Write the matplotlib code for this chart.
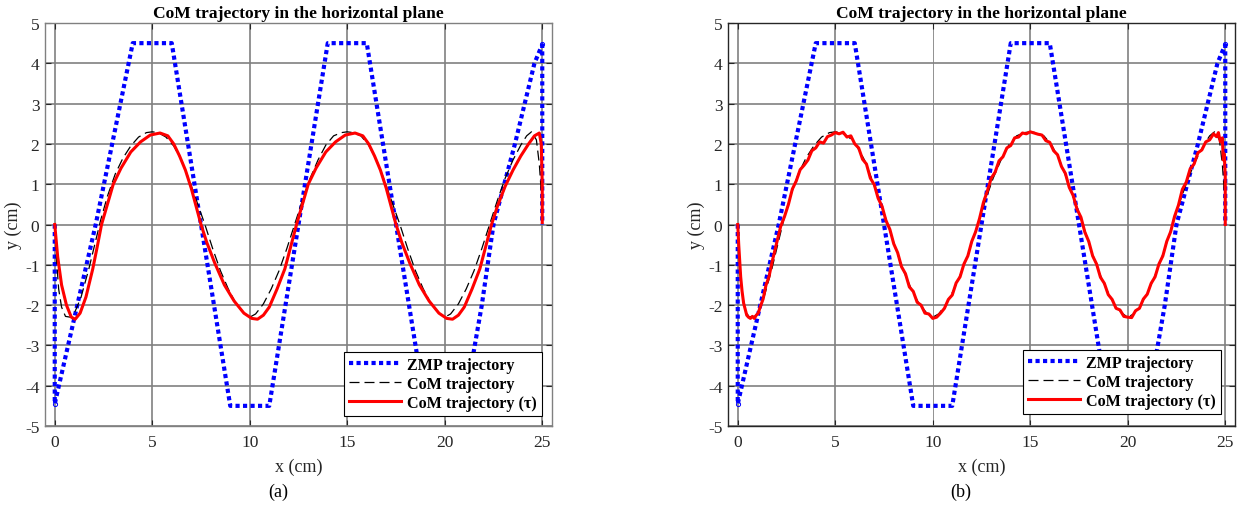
import matplotlib
matplotlib.use("Agg")
import matplotlib.pyplot as plt

plt.rcParams['font.family'] = ['Liberation Serif', 'DejaVu Serif']
plt.rcParams['axes.unicode_minus'] = False

# ZMP reference (blue dotted)
zmp_x = [0, 0, 2.1, 4.0, 6.0, 9.0, 11.0, 14.0, 16.0, 19.0, 21.0, 21.9, 22.5, 23.6, 24.6, 24.9, 25.0, 25.0]
zmp_y = [0, -4.45, 0, 4.5, 4.5, -4.5, -4.5, 4.5, 4.5, -4.5, -4.5, -2.0, 0, 2.0, 4.0, 4.35, 4.45, 0]
zmp_mark_x = [0, 25.0]
zmp_mark_y = [-4.45, 4.48]

# CoM reference (black dashed)
com_x = [0, 0.08, 0.2, 0.35, 0.55, 0.8, 1.05, 1.35, 1.75, 2.1, 2.35, 2.7, 3.1, 3.5, 3.9, 4.3, 4.7, 5.0,
         5.3, 5.7, 6.1, 6.5, 6.9, 7.3, 7.7, 8.1, 8.5, 8.9, 9.3, 9.7, 10.0, 10.3, 10.7, 11.1, 11.5, 11.9,
         12.3, 12.7, 13.1, 13.5, 13.9, 14.3, 14.7, 15.0, 15.3, 15.7, 16.1, 16.5, 16.9, 17.3, 17.7, 18.1,
         18.5, 18.9, 19.3, 19.7, 20.0, 20.3, 20.7, 21.1, 21.5, 21.9, 22.3, 22.7, 23.1, 23.5, 23.9, 24.2,
         24.45, 24.7, 24.85, 24.95, 25.0]
com_y = [0, -0.8, -1.6, -2.05, -2.28, -2.3, -2.15, -1.8, -1.1, -0.4, 0.1, 0.7, 1.25, 1.65, 1.95, 2.17, 2.28, 2.3,
         2.28, 2.17, 1.95, 1.6, 1.1, 0.55, 0, -0.6, -1.15, -1.6, -1.97, -2.2, -2.3, -2.22, -1.97, -1.6, -1.15, -0.6,
         0, 0.6, 1.15, 1.6, 1.97, 2.2, 2.28, 2.3, 2.28, 2.2, 1.97, 1.6, 1.1, 0.55, 0, -0.6,
         -1.15, -1.6, -1.97, -2.2, -2.3, -2.22, -1.97, -1.6, -1.15, -0.6, 0, 0.6, 1.15, 1.6, 1.97, 2.2,
         2.3, 2.1, 1.5, 0.8, 0.2]

# CoM trajectory (tau), case (a)
red_a_x = [0, 0.15, 0.35, 0.6, 0.85, 1.05, 1.3, 1.6, 1.95, 2.2, 2.4, 2.7, 3.0, 3.4, 3.9, 4.4, 4.9, 5.4, 5.8,
           6.1, 6.4, 6.7, 7.0, 7.25, 7.5, 7.8, 8.2, 8.7, 9.2, 9.7, 10.1, 10.4, 10.7, 11.0, 11.4, 11.8, 12.1,
           12.4, 12.7, 13.0, 13.4, 13.9, 14.4, 14.9, 15.4, 15.8, 16.1, 16.4, 16.7, 17.0, 17.25, 17.5, 17.8,
           18.2, 18.7, 19.2, 19.7, 20.1, 20.4, 20.7, 21.0, 21.4, 21.8, 22.1, 22.4, 22.7, 23.1, 23.5, 23.9,
           24.3, 24.6, 24.85, 24.95, 25.0, 25.0]
red_a_y = [0, -0.8, -1.5, -2.0, -2.3, -2.35, -2.2, -1.8, -1.1, -0.5, 0, 0.5, 1.0, 1.4, 1.8, 2.05, 2.22, 2.27, 2.2,
           2.0, 1.7, 1.35, 0.9, 0.45, 0, -0.45, -0.95, -1.5, -1.9, -2.2, -2.33, -2.35, -2.25, -2.05, -1.6, -1.1, -0.55,
           0, 0.5, 1.0, 1.4, 1.8, 2.05, 2.22, 2.27, 2.2, 2.0, 1.7, 1.35, 0.9, 0.45, 0, -0.45,
           -0.95, -1.5, -1.9, -2.2, -2.33, -2.35, -2.25, -2.05, -1.6, -1.1, -0.55, 0, 0.45, 0.95, 1.35, 1.7,
           2.0, 2.2, 2.27, 2.0, 1.0, 0.05]

# CoM trajectory (tau), case (b) - noisy
red_b_x = [0, 0.05, 0.1, 0.15, 0.22, 0.3, 0.38, 0.46, 0.55, 0.65, 0.75, 0.85, 0.95, 1.05, 1.15, 1.3, 1.45,
           1.6, 1.75, 1.9, 2.05, 2.2,
           2.4, 2.6, 2.8, 3.0, 3.2, 3.4, 3.6, 3.8, 4.0, 4.2, 4.4, 4.6, 4.8, 5.0, 5.2, 5.4, 5.6, 5.8, 6.0,
           6.2, 6.4, 6.6, 6.8, 7.0, 7.2, 7.4, 7.6, 7.8, 8.0, 8.2, 8.4, 8.6, 8.8, 9.0, 9.2, 9.4, 9.6, 9.8,
           10.0, 10.2, 10.4, 10.6, 10.8, 11.0, 11.2, 11.4, 11.6, 11.8, 12.0, 12.2,
           12.4, 12.6, 12.8, 13.0, 13.2, 13.4, 13.6, 13.8, 14.0, 14.2, 14.4, 14.6, 14.8, 15.0, 15.2, 15.4,
           15.6, 15.8, 16.0, 16.2, 16.4, 16.6, 16.8, 17.0, 17.2, 17.4, 17.6, 17.8, 18.0, 18.2, 18.4, 18.6,
           18.8, 19.0, 19.2, 19.4, 19.6, 19.8, 20.0, 20.2, 20.4, 20.6, 20.8, 21.0, 21.2, 21.4, 21.6, 21.8,
           22.0, 22.2,
           22.4, 22.6, 22.8, 23.0, 23.2, 23.4, 23.6, 23.8, 24.0, 24.2, 24.4, 24.55, 24.65, 24.75, 24.85,
           24.9, 24.95, 25.0, 25.0, 25.0]
red_b_y = [0, -0.5, -0.9, -1.3, -1.65, -1.95, -2.1, -2.25, -2.3, -2.33, -2.28, -2.33, -2.25, -2.2, -2.05, -1.85, -1.5,
           -1.3, -0.95, -0.65, -0.35, -0.05,
           0.2, 0.5, 0.88, 1.08, 1.36, 1.47, 1.6, 1.83, 1.9, 2.05, 2.02, 2.18, 2.22, 2.28, 2.25, 2.29, 2.17, 2.2, 2.0,
           1.9, 1.62, 1.5, 1.15, 0.99, 0.65, 0.45, 0.1, -0.12, -0.48, -0.7, -1.05, -1.22, -1.55, -1.66, -1.93, -2.0, -2.2, -2.22,
           -2.33, -2.3, -2.2, -2.08, -1.86, -1.75, -1.45, -1.3, -0.98, -0.78, -0.42, -0.18,
           0.15, 0.55, 0.83, 1.15, 1.3, 1.58, 1.68, 1.9, 1.96, 2.15, 2.17, 2.27, 2.25, 2.3, 2.27, 2.24,
           2.22, 2.08, 2.04, 1.83, 1.73, 1.44, 1.27, 0.92, 0.72, 0.38, 0.18, -0.19, -0.42, -0.78, -0.98, -1.31,
           -1.46, -1.74, -1.86, -2.08, -2.12, -2.28, -2.3, -2.31, -2.14, -2.08, -1.85, -1.73, -1.46, -1.3, -0.98, -0.78,
           -0.42, -0.18,
           0.2, 0.48, 0.87, 1.05, 1.38, 1.5, 1.78, 1.85, 2.05, 2.1, 2.25, 2.18, 2.28, 2.05, 2.15,
           1.6, 1.75, 1.2, 0.8, 0.0]

xticks = [0, 5, 10, 15, 20, 25]
yticks = [-5, -4, -3, -2, -1, 0, 1, 2, 3, 4, 5]

fig = plt.figure(figsize=(12.47, 5.06), dpi=100)
ax_a = fig.add_axes([45 / 1247, 79 / 506, 507 / 1247, 403 / 506])
ax_b = fig.add_axes([728 / 1247, 79 / 506, 507 / 1247, 403 / 506])

panels = [(ax_a, red_a_x, red_a_y, '(a)', '#808080', 0.980, 0.025),
          (ax_b, red_b_x, red_b_y, '(b)', '#262626', 0.972, 0.030)]

for ax, rx, ry, tag, spine_c, lx, ly in panels:
    ax.plot(zmp_x, zmp_y, color='#0000ff', lw=3.0, dashes=(1.0, 0.8), dash_capstyle='butt',
            label='ZMP trajectory', zorder=3)
    ax.plot(zmp_mark_x, zmp_mark_y, 'o', ms=3, mfc='none', mec='#0000ff', mew=0.7, zorder=3)
    ax.plot(com_x, com_y, color='black', lw=0.9, dashes=(8, 4), label='CoM trajectory', zorder=4)
    ax.plot(rx, ry, color='#ff0000', lw=2.2, label='CoM trajectory (\u03c4)', zorder=5)

    ax.set_xlim(-0.5, 25.5)
    ax.set_ylim(-5, 5)
    ax.set_xticks(xticks)
    ax.set_yticks(yticks)
    ax.grid(True, color='#808080', lw=1.2)
    ax.set_axisbelow(True)
    ax.tick_params(direction='in', length=4, top=True, right=True, labelsize=12.5,
                   colors='#262626')
    ax.tick_params(axis='x', pad=6)
    ax.tick_params(axis='y', pad=4)
    for s in ax.spines.values():
        s.set_color(spine_c)
        s.set_linewidth(1.0)

    ax.set_title('CoM trajectory in the horizontal plane', fontsize=12.6, fontweight='bold', pad=4)
    ax.set_xlabel('x (cm)', fontsize=13, labelpad=5, color='#262626')
    ax.set_ylabel('y (cm)', fontsize=13, labelpad=2, color='#262626')
    ax.text(0.46, -0.162, tag, transform=ax.transAxes, fontsize=13, ha='center', va='center')

    leg = ax.legend(loc='lower right', bbox_to_anchor=(lx, ly), borderaxespad=0,
                    fancybox=False, framealpha=1, edgecolor='black', handlelength=3.2,
                    prop={'weight': 'bold', 'size': 11.6}, labelspacing=0.2,
                    borderpad=0.3, handletextpad=0.4)
    leg.get_frame().set_linewidth(0.8)

# the x=10 grid line on panel (b) is drawn thinner in the original
ax_b.get_xgridlines()[2].set_linewidth(0.6)

fig.savefig('out.png', dpi=100)
